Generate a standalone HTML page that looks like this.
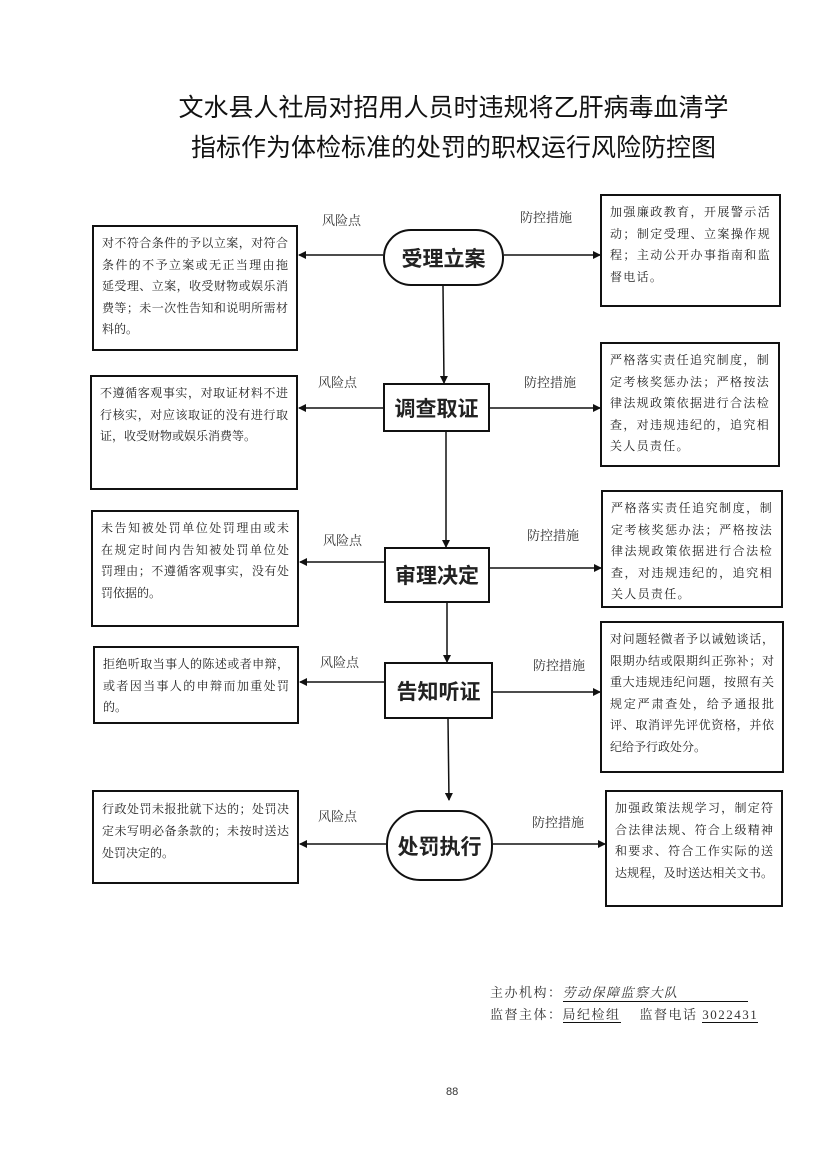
<!DOCTYPE html>
<html><head><meta charset="utf-8"><style>
body{margin:0;background:#fff;}
#p{position:relative;width:827px;height:1169px;overflow:hidden;font-family:"Liberation Serif","Noto Serif CJK SC",serif;color:#222;}
.t{position:absolute;left:40px;width:827px;text-align:center;font-family:"Liberation Sans","Noto Sans CJK SC",sans-serif;font-size:25px;color:#111;}
.b{position:absolute;box-sizing:border-box;border:2px solid #111;padding:6px 8px;font-size:12px;line-height:21.5px;text-align:justify;}
.b span{display:block;white-space:nowrap;text-align:justify;text-align-last:justify;}
.b span.e{text-align-last:left;}
.r{letter-spacing:1.3px;}
.n{position:absolute;box-sizing:border-box;border:2px solid #111;display:flex;align-items:center;justify-content:center;font-family:"Liberation Sans","Noto Sans CJK SC",sans-serif;font-weight:bold;font-size:21px;background:#fff;}
.l{position:absolute;font-size:13px;color:#333;}
svg{position:absolute;left:0;top:0;}
</style></head><body><div id="p">
<div class="t" style="top:88px;">文水县人社局对招用人员时违规将乙肝病毒血清学</div>
<div class="t" style="top:128px;">指标作为体检标准的处罚的职权运行风险防控图</div>
<svg width="827" height="1169">
<defs><marker id="a" markerWidth="8" markerHeight="8" refX="7" refY="4" orient="auto" markerUnits="userSpaceOnUse"><path d="M0,0 L8,4 L0,8z" fill="#111"/></marker></defs>
<g stroke="#111" stroke-width="1.5" fill="none" marker-end="url(#a)">
<line x1="383" y1="255" x2="299" y2="255"/><line x1="504" y1="255" x2="600" y2="255"/>
<line x1="383" y1="408" x2="299" y2="408"/><line x1="490" y1="408" x2="600" y2="408"/>
<line x1="384" y1="562" x2="300" y2="562"/><line x1="490" y1="568" x2="601" y2="568"/>
<line x1="384" y1="682" x2="300" y2="682"/><line x1="493" y1="692" x2="600" y2="692"/>
<line x1="386" y1="844" x2="300" y2="844"/><line x1="493" y1="844" x2="605" y2="844"/>
<line x1="443" y1="286" x2="444" y2="383"/><line x1="446" y1="432" x2="446" y2="547"/>
<line x1="447" y1="603" x2="447" y2="662"/><line x1="448" y1="719" x2="449" y2="800"/>
</g></svg>
<div class="n" style="left:383px;top:229px;width:121px;height:57px;border-radius:28px;">受理立案</div>
<div class="n" style="left:383px;top:383px;width:107px;height:49px;">调查取证</div>
<div class="n" style="left:384px;top:547px;width:106px;height:56px;">审理决定</div>
<div class="n" style="left:384px;top:662px;width:109px;height:57px;">告知听证</div>
<div class="n" style="left:386px;top:810px;width:107px;height:71px;border-radius:34px;">处罚执行</div>

<div class="b" style="left:92px;top:225px;width:206px;height:126px;"><span>对不符合条件的予以立案，对符合</span><span>条件的不予立案或无正当理由拖</span><span>延受理、立案，收受财物或娱乐消</span><span>费等；未一次性告知和说明所需材</span><span class="e">料的。</span></div>
<div class="b" style="left:90px;top:375px;width:208px;height:115px;"><span>不遵循客观事实，对取证材料不进</span><span>行核实，对应该取证的没有进行取</span><span class="e">证，收受财物或娱乐消费等。</span></div>
<div class="b" style="left:91px;top:510px;width:208px;height:117px;"><span>未告知被处罚单位处罚理由或未</span><span>在规定时间内告知被处罚单位处</span><span>罚理由；不遵循客观事实，没有处</span><span class="e">罚依据的。</span></div>
<div class="b" style="left:93px;top:646px;width:206px;height:78px;"><span>拒绝听取当事人的陈述或者申辩，</span><span>或者因当事人的申辩而加重处罚</span><span class="e">的。</span></div>
<div class="b" style="left:92px;top:790px;width:207px;height:94px;line-height:22px;"><span>行政处罚未报批就下达的；处罚决</span><span>定未写明必备条款的；未按时送达</span><span class="e">处罚决定的。</span></div>

<div class="b r" style="left:600px;top:194px;width:181px;height:113px;">加强廉政教育，开展警示活动；制定受理、立案操作规程；主动公开办事指南和监督电话。</div>
<div class="b r" style="left:600px;top:342px;width:180px;height:125px;">严格落实责任追究制度，制定考核奖惩办法；严格按法律法规政策依据进行合法检查，对违规违纪的，追究相关人员责任。</div>
<div class="b r" style="left:601px;top:490px;width:182px;height:118px;">严格落实责任追究制度，制定考核奖惩办法；严格按法律法规政策依据进行合法检查，对违规违纪的，追究相关人员责任。</div>
<div class="b" style="left:600px;top:621px;width:184px;height:152px;">对问题轻微者予以诫勉谈话，限期办结或限期纠正弥补；对重大违规违纪问题，按照有关规定严肃查处，给予通报批评、取消评先评优资格，并依纪给予行政处分。</div>
<div class="b" style="left:605px;top:790px;width:178px;height:117px;"><span>加强政策法规学习，制定符</span><span>合法律法规、符合上级精神</span><span>和要求、符合工作实际的送</span><span>达规程，及时送达相关文书。</span></div>

<div class="l" style="left:322px;top:210px">风险点</div><div class="l" style="left:520px;top:207px">防控措施</div>
<div class="l" style="left:318px;top:372px">风险点</div><div class="l" style="left:524px;top:372px">防控措施</div>
<div class="l" style="left:323px;top:530px">风险点</div><div class="l" style="left:527px;top:525px">防控措施</div>
<div class="l" style="left:320px;top:652px">风险点</div><div class="l" style="left:533px;top:655px">防控措施</div>
<div class="l" style="left:318px;top:806px">风险点</div><div class="l" style="left:532px;top:812px">防控措施</div>

<div class="l" style="left:490px;top:982px;letter-spacing:1.5px;">主办机构：<span style="display:inline-block;width:185px;border-bottom:1px solid #111;font-style:italic;">劳动保障监察大队</span></div>
<div class="l" style="left:490px;top:1004px;letter-spacing:1.5px;">监督主体：<span style="border-bottom:1px solid #111;">局纪检组</span>&nbsp;&nbsp;&nbsp;&nbsp;监督电话 <span style="border-bottom:1px solid #111;">3022431</span></div>
<div class="l" style="left:446px;top:1086px;font-size:11px;font-family:'Liberation Sans',sans-serif;">88</div>
</div></body></html>
